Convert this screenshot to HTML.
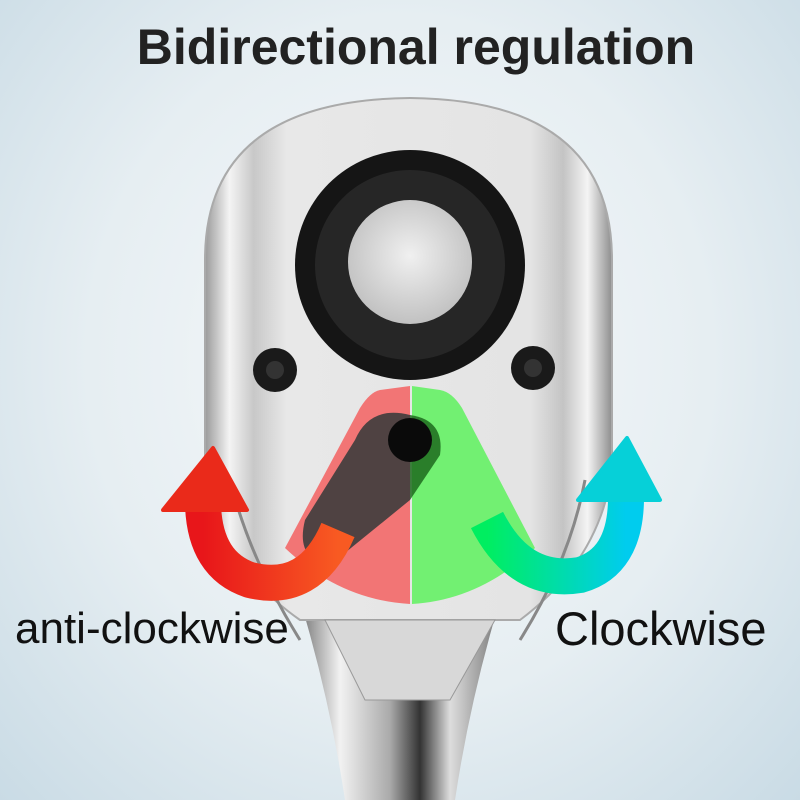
<!DOCTYPE html>
<html><head><style>
html,body{margin:0;padding:0;}
body{width:800px;height:800px;overflow:hidden;background:radial-gradient(ellipse at 50% 45%,#f7f9fa 0%,#e6eef2 55%,#c9dbe5 100%);font-family:"Liberation Sans",sans-serif;}
</style></head><body>
<svg width="800" height="800" viewBox="0 0 800 800" style="position:absolute;left:0;top:0">
<defs>
<linearGradient id="metal" x1="0" x2="1" y1="0" y2="0">
<stop offset="0" stop-color="#9a9a9a"/><stop offset="0.06" stop-color="#f4f4f4"/><stop offset="0.12" stop-color="#c8c8c8"/><stop offset="0.2" stop-color="#e8e8e8"/><stop offset="0.8" stop-color="#e4e4e4"/><stop offset="0.88" stop-color="#c4c4c4"/><stop offset="0.94" stop-color="#f4f4f4"/><stop offset="1" stop-color="#8e8e8e"/>
</linearGradient>
<linearGradient id="handle" x1="0" x2="1">
<stop offset="0" stop-color="#777"/><stop offset="0.2" stop-color="#f2f2f2"/><stop offset="0.45" stop-color="#aaa"/><stop offset="0.6" stop-color="#333"/><stop offset="0.75" stop-color="#ddd"/><stop offset="1" stop-color="#777"/>
</linearGradient>
<linearGradient id="red" x1="0" x2="1"><stop offset="0" stop-color="#e8161a"/><stop offset="1" stop-color="#f85a22"/></linearGradient>
<linearGradient id="grn" x1="0" x2="1"><stop offset="0" stop-color="#00ee60"/><stop offset="1" stop-color="#00ccee"/></linearGradient>
<radialGradient id="cap" cx="0.5" cy="0.45" r="0.6"><stop offset="0" stop-color="#f0f0f0"/><stop offset="1" stop-color="#bdbdbd"/></radialGradient>
</defs>
<path d="M300,600 Q330,700 345,800 L455,800 Q470,700 500,600 Z" fill="url(#handle)"/>
<path d="M205,260 Q205,100 410,98 Q612,100 612,260 L612,470 Q600,560 520,620 L300,620 Q215,560 205,470 Z" fill="url(#metal)" stroke="#aaa" stroke-width="2"/>
<path d="M325,620 L495,620 L450,700 L365,700 Z" fill="#d8d8d8" stroke="#999"/>
<path d="M300,640 Q250,560 230,480" fill="none" stroke="#888" stroke-width="3"/>
<path d="M520,640 Q570,560 585,480" fill="none" stroke="#888" stroke-width="3"/>
<circle cx="410" cy="265" r="115" fill="#151515"/>
<circle cx="410" cy="265" r="95" fill="#262626"/>
<circle cx="410" cy="262" r="62" fill="url(#cap)"/>
<circle cx="275" cy="370" r="22" fill="#1a1a1a"/><circle cx="275" cy="370" r="9" fill="#333"/>
<circle cx="533" cy="368" r="22" fill="#1a1a1a"/><circle cx="533" cy="368" r="9" fill="#333"/>
<path d="M410,386 L380,390 Q370,392 360,408 L285,548 Q340,600 410,604 Z" fill="#f27575"/>
<path d="M412,386 L440,390 Q452,392 462,408 L535,548 Q480,600 412,604 Z" fill="#72f072"/>
<path d="M410,415 Q370,405 355,440 L305,520 Q295,560 330,565 L410,500 Z" fill="#3d3d3d" opacity="0.9"/>
<path d="M410,415 Q445,420 440,455 L410,500 Z" fill="#1d6a1d" opacity="0.85"/>
<circle cx="410" cy="440" r="22" fill="#0a0a0a"/>
<path d="M338,530 Q310,595 250,580 Q205,565 203,505" fill="none" stroke="url(#red)" stroke-width="36" stroke-linecap="butt"/>
<path d="M163,510 L213,448 L247,510 Z" fill="#ea2a1a" stroke="#ea2a1a" stroke-width="4" stroke-linejoin="round"/>
<path d="M487,520 Q520,585 580,575 Q625,562 626,500" fill="none" stroke="url(#grn)" stroke-width="36"/>
<path d="M578,500 L627,438 L660,500 Z" fill="#06d0d8" stroke="#06d0d8" stroke-width="4" stroke-linejoin="round"/>
</svg>
<div style="position:absolute;left:0;width:832px;top:18px;text-align:center;font-size:50px;font-weight:bold;color:#222;">Bidirectional regulation</div>
<div style="position:absolute;left:15px;top:604px;font-size:44px;color:#111;">anti-clockwise</div>
<div style="position:absolute;left:555px;top:601px;font-size:47px;color:#111;">Clockwise</div>
</body></html>
